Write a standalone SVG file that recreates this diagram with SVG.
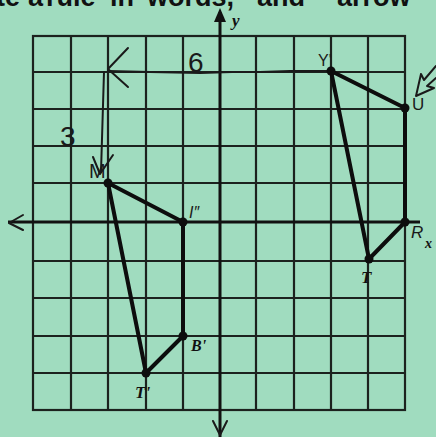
<svg xmlns="http://www.w3.org/2000/svg" width="436" height="437" viewBox="0 0 436 437">
<defs>
<style>
.grid{stroke:#1c221e;stroke-width:2.2;fill:none}
.axis{stroke:#111;stroke-width:3;fill:none}
.shape{stroke:#0d0d0d;stroke-width:4;fill:none;stroke-linejoin:round;stroke-linecap:round}
.hand{stroke:#1a1a1a;stroke-width:2;fill:none;stroke-linecap:round;stroke-linejoin:round}
.dot{fill:#0d0d0d}
.lbl{font-family:"Liberation Serif",serif;font-style:italic;font-weight:bold;fill:#111}
.hw{font-family:"Liberation Sans",sans-serif;fill:#1a1a1a}
</style>
</defs>
<rect width="436" height="437" fill="#a0dcbf"/>
<text font-family="Liberation Sans, sans-serif" font-weight="bold" font-size="27" fill="#111" y="6"><tspan x="-4">te</tspan><tspan x="28">a</tspan><tspan x="46">rule</tspan><tspan x="110">in</tspan><tspan x="147">words,</tspan><tspan x="257">and</tspan><tspan x="337">arrow</tspan></text>
<g id="grid">
<rect class="grid" x="33" y="36" width="372" height="374"/>
<path class="grid" d="M71 36V410M108 36V410M146 36V410M183 36V410M256 36V410M294 36V410M331 36V410M368 36V410"/>
<path class="grid" d="M33 72H405M33 109H405M33 146H405M33 183H405M33 261H405M33 298H405M33 336H405M33 373H405"/>
</g>
<g id="axes">
<path class="axis" d="M220 12V437"/>
<path class="axis" d="M8 222H420"/>
<path d="M220 8L214 22L226 22Z" fill="#111"/>
<path class="hand" stroke-width="2.5" d="M23 215L9 223L23 230"/>
<path class="hand" stroke-width="2.5" d="M213 421L220 435L227 421"/>
<text class="lbl" x="232" y="26" font-size="17">y</text>
<text class="lbl" x="425" y="248" font-size="14">x</text>
</g>
<g id="connectors">
<path class="hand" d="M331 71L290 71L260 72L232 72L200 73L150 72L108 71"/>
<path class="hand" d="M128 48L108 69L128 87"/>
<path class="hand" d="M104 72L101 172"/>
<path class="hand" d="M93 157L100 174L113 155"/>
</g>
<g id="preimage">
<path class="shape" d="M331 71L405 108L405 222L369 259Z"/>
<circle class="dot" cx="331" cy="71" r="4.5"/>
<circle class="dot" cx="405" cy="108" r="4.5"/>
<circle class="dot" cx="405" cy="222" r="4.5"/>
<circle class="dot" cx="369" cy="259" r="4.5"/>
</g>
<g id="image">
<path class="shape" d="M108 183L183 222L183 336L146 373Z"/>
<circle class="dot" cx="108" cy="183" r="4.5"/>
<circle class="dot" cx="183" cy="222" r="4.5"/>
<circle class="dot" cx="183" cy="336" r="4.5"/>
<circle class="dot" cx="146" cy="373" r="4.5"/>
</g>
<g id="labels">
<text class="hw" x="318" y="66" font-size="16">Y'</text>
<path class="hand" d="M436 66L424 80L421 74L416 96L434 88L427 86L436 78"/>
<text class="hw" x="412" y="110" font-size="17">U</text>
<text class="hw" x="411" y="238" font-size="17" font-style="italic">R</text>
<text class="lbl" x="361" y="283" font-size="17">T</text>
<text class="hw" x="89" y="178" font-size="20">M</text>
<text class="hw" x="189" y="218" font-size="16" font-style="italic">I″</text>
<text class="lbl" x="191" y="351" font-size="16">B'</text>
<text class="lbl" x="135" y="398" font-size="17">T'</text>
<text class="hw" x="188" y="72" font-size="28">6</text>
<text class="hw" x="60" y="146" font-size="28">3</text>
</g>
</svg>
